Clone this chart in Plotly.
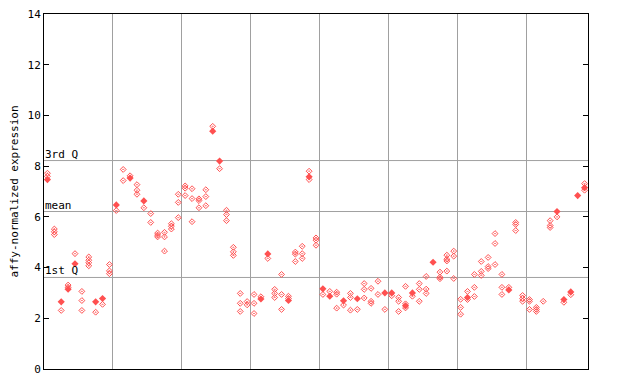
import plotly.graph_objects as go

# Per-sample replicate values (open diamonds) and highlighted values (filled diamonds)
open_vals = [
    [7.72, 7.60], [5.52, 5.41, 5.30], [2.31], [3.31, 3.22], [4.55],
    [3.06, 2.70, 2.31], [4.42, 4.29, 4.19, 4.07], [2.24], [2.55], [4.12, 3.87, 3.76],
    [6.25], [7.87, 7.43], [7.62], [7.27, 7.05, 6.89], [6.36],
    [6.13, 5.78], [5.36, 5.28, 5.21], [5.39, 5.21, 4.65], [5.73, 5.63, 5.52], [6.89, 6.57, 5.97],
    [7.22, 7.13, 6.84], [7.11, 6.72, 5.81], [6.71, 6.64, 6.36], [7.07, 6.80, 6.44], [9.57],
    [7.90], [6.26, 6.09, 5.85], [4.80, 4.62, 4.48], [2.98, 2.59, 2.27], [2.66, 2.53],
    [2.94, 2.59, 2.19], [2.85], [4.36], [3.14, 2.98, 2.82], [3.73, 2.94, 2.35],
    [2.87, 2.78], [4.61, 4.53, 4.24], [4.84, 4.55, 4.36], [7.80, 7.47], [5.17, 5.08, 4.88],
    [2.94], [3.06], [3.03, 2.95, 2.40], [2.52], [2.98, 2.82, 2.32],
    [2.35], [3.37, 3.14, 2.80], [3.18, 2.67, 2.59], [3.46, 2.94], [2.35],
    [2.89], [2.82, 2.67, 2.27], [3.26, 2.57, 2.41], [2.87], [3.37, 3.14, 2.67],
    [3.65, 3.15, 2.98], [], [3.82, 3.62, 3.56], [4.49, 4.33, 4.26, 3.86], [4.65, 4.45, 3.57],
    [2.75, 2.43, 2.16], [3.06, 2.74], [3.73, 3.22, 2.86], [4.24, 3.85, 3.69], [4.40, 4.04, 3.96],
    [5.34, 4.95, 4.12], [3.73, 3.22, 2.94], [3.22], [5.78, 5.70, 5.46], [2.90, 2.78, 2.67],
    [2.74, 2.67, 2.35], [2.43, 2.35, 2.27], [2.67], [5.85, 5.66, 5.58], [6.00],
    [2.63], [2.93], [], [7.31, 7.05],
]
filled_vals = [
    [7.47], [], [2.65], [3.15], [4.15],
    [], [], [2.65], [2.78], [],
    [6.47], [], [7.53], [], [6.63],
    [], [], [], [], [],
    [], [], [], [], [9.38],
    [8.20], [], [], [], [],
    [], [2.76], [4.54], [], [],
    [2.70], [], [], [7.58], [],
    [3.16], [2.87], [], [2.69], [],
    [2.77], [], [], [], [3.00],
    [3.00], [], [2.49], [3.00], [],
    [], [4.21], [], [], [],
    [], [2.82], [], [], [],
    [], [], [3.12], [], [],
    [], [], [], [], [6.21],
    [2.74], [3.04], [6.84], [7.15],
]

quartile_names = ["3rd Q", "mean", "1st Q"]
quartile_values = [8.22, 6.21, 3.61]
y_ticks = [0, 2, 4, 6, 8, 10, 12, 14]
group_bounds = [9.5, 19.5, 29.5, 39.5, 49.5, 59.5, 69.5]

n = len(open_vals)
xo, yo, xf, yf = [], [], [], []
for i in range(n):
    for v in open_vals[i]:
        xo.append(i); yo.append(v)
    for v in filled_vals[i]:
        xf.append(i); yf.append(v)

RED = "#ff5050"
MONO = "DejaVu Sans Mono"

fig = go.Figure()
fig.add_trace(go.Scatter(x=xo, y=yo, mode="markers", showlegend=False,
                         marker=dict(symbol="diamond-open-dot", size=4.5, color=RED,
                                     line=dict(color=RED, width=1))))
fig.add_trace(go.Scatter(x=xf, y=yf, mode="markers", showlegend=False,
                         marker=dict(symbol="diamond", size=5.5, color=RED,
                                     line=dict(width=0))))

for name, val in zip(quartile_names, quartile_values):
    fig.add_shape(type="line", xref="paper", x0=0, x1=1, yref="y", y0=val, y1=val,
                  line=dict(color="#a0a0a0", width=1), layer="below")
    fig.add_annotation(x=0, xref="paper", y=val, yref="y", text=name, showarrow=False,
                       xanchor="left", yanchor="bottom", xshift=-1, yshift=-2,
                       font=dict(family=MONO, size=11, color="black"))

# page body has an 8px margin; size the figure so it fits the 640x384 window
fig.update_layout(
    width=624, height=368,
    margin=dict(l=36, r=44, t=6, b=7, autoexpand=False),
    paper_bgcolor="white", plot_bgcolor="white",
    font=dict(family=MONO, size=11, color="black"),
    xaxis=dict(range=[-0.5, n - 0.5], tickvals=group_bounds, showticklabels=False,
               ticks="", showgrid=True, gridcolor="#a0a0a0", gridwidth=1,
               showline=True, linecolor="black", linewidth=1, mirror=True, zeroline=False),
    yaxis=dict(range=[0, 14], tickvals=y_ticks, ticks="inside", ticklen=5,
               tickcolor="black", showline=True, linecolor="black", linewidth=1,
               mirror="ticks", showgrid=False, zeroline=False, automargin=False,
               ticklabeloverflow="allow",
               title=dict(text="affy-normalized expression", standoff=15,
                          font=dict(family=MONO, size=11))),
)

fig.write_html("out.html")
